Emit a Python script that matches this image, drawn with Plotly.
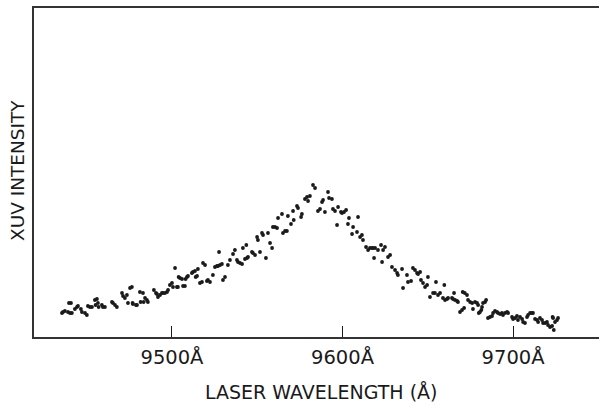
import plotly.graph_objects as go

# Laser wavelength (Angstrom) and XUV intensity (arbitrary units)
wavelength = [
    9435.5, 9436.1, 9437.2, 9439.0, 9439.6, 9440.2, 9440.8, 9441.3, 9443.1, 9444.3,
    9444.9, 9446.6, 9447.2, 9449.0, 9450.1, 9450.7, 9451.9, 9453.1, 9454.8, 9455.2,
    9456.0, 9456.6, 9457.0, 9458.9, 9459.5, 9460.7, 9464.8, 9465.4, 9466.6, 9467.7,
    9470.7, 9471.3, 9472.4, 9473.6, 9474.2, 9475.4, 9476.5, 9476.9, 9477.1, 9478.9,
    9479.5, 9481.2, 9481.6, 9483.0, 9483.4, 9484.2, 9485.3, 9485.9, 9489.4, 9490.6,
    9491.2, 9491.8, 9493.0, 9494.1, 9494.7, 9495.9, 9497.1, 9497.7, 9498.8, 9500.0,
    9500.6, 9501.8, 9502.9, 9503.5, 9503.9, 9504.7, 9505.9, 9506.5, 9507.6, 9508.0,
    9508.8, 9509.4, 9511.7, 9512.3, 9513.5, 9513.9, 9514.7, 9515.2, 9516.4, 9517.6,
    9518.2, 9519.4, 9520.5, 9521.1, 9522.3, 9524.0, 9525.2, 9526.4, 9527.0, 9527.6,
    9528.2, 9529.3, 9529.9, 9531.1, 9532.8, 9534.0, 9535.8, 9536.9, 9538.1, 9538.7,
    9539.9, 9541.1, 9541.6, 9542.8, 9544.0, 9543.6, 9544.6, 9546.9, 9547.5, 9548.7,
    9549.9, 9550.4, 9551.6, 9552.8, 9553.4, 9555.1, 9556.3, 9557.5, 9558.7, 9559.2,
    9560.4, 9561.6, 9562.2, 9564.5, 9565.1, 9566.3, 9567.4, 9568.0, 9569.8, 9571.0,
    9571.4, 9573.3, 9573.9, 9575.7, 9576.2, 9578.0, 9579.2, 9579.8, 9580.9, 9582.7,
    9583.9, 9585.6, 9586.8, 9588.0, 9588.6, 9589.7, 9591.5, 9592.1, 9593.8, 9594.4,
    9595.6, 9596.8, 9597.4, 9599.1, 9599.7, 9600.9, 9602.1, 9603.2, 9603.8, 9605.6,
    9606.2, 9608.5, 9609.1, 9610.3, 9611.4, 9612.0, 9613.8, 9615.0, 9616.1, 9617.3,
    9617.9, 9618.5, 9619.1, 9620.8, 9622.6, 9623.2, 9623.8, 9624.9, 9626.7, 9627.9,
    9629.0, 9630.8, 9632.0, 9632.5, 9634.9, 9635.5, 9637.8, 9638.4, 9640.2, 9641.3,
    9642.5, 9643.7, 9644.3, 9645.5, 9646.0, 9647.2, 9648.4, 9649.6, 9650.1, 9651.3,
    9653.1, 9654.2, 9654.8, 9656.0, 9657.2, 9658.9, 9660.1, 9659.7, 9661.3, 9661.9,
    9664.2, 9664.8, 9665.4, 9666.0, 9667.2, 9667.7, 9668.9, 9670.1, 9670.5, 9671.3,
    9671.7, 9673.0, 9673.6, 9674.8, 9676.0, 9676.5, 9677.7, 9678.9, 9679.5, 9679.9,
    9680.6, 9681.8, 9681.4, 9682.4, 9683.6, 9684.2, 9685.3, 9686.5, 9687.7, 9688.3,
    9689.4, 9690.6, 9691.2, 9692.4, 9693.5, 9694.1, 9695.3, 9696.5, 9697.1, 9699.4,
    9700.0, 9701.2, 9702.3, 9702.9, 9704.1, 9705.3, 9705.9, 9707.0, 9708.2, 9708.8,
    9710.0, 9711.1, 9711.7, 9712.9, 9714.1, 9714.7, 9715.8, 9717.0, 9717.6, 9718.8,
    9719.9, 9720.5, 9721.7, 9722.9, 9723.2, 9723.5, 9723.9, 9724.6, 9725.8, 9726.4,
]

intensity = [
    24, 25, 26, 25, 34, 24, 34, 24, 28, 30,
    31, 28, 25, 24, 22, 31, 30, 30, 37, 32,
    38, 34, 30, 32, 30, 30, 35, 34, 32, 30,
    44, 41, 39, 42, 34, 49, 50, 34, 33, 32,
    32, 45, 35, 44, 35, 39, 37, 35, 47, 44,
    43, 40, 42, 44, 44, 44, 45, 47, 52, 54,
    50, 69, 50, 50, 60, 59, 58, 51, 51, 58,
    60, 61, 64, 65, 66, 60, 61, 68, 54, 55,
    74, 72, 56, 57, 55, 62, 70, 71, 71, 85,
    72, 73, 57, 60, 72, 77, 83, 87, 77, 75,
    74, 73, 89, 78, 79, 92, 80, 85, 84, 82,
    100, 97, 85, 104, 102, 79, 104, 94, 89, 110,
    110, 109, 119, 123, 104, 106, 106, 121, 113, 126,
    117, 131, 129, 120, 123, 138, 140, 136, 141, 152,
    149, 126, 128, 135, 137, 125, 145, 139, 138, 128,
    126, 112, 130, 125, 124, 125, 127, 113, 119, 103,
    110, 105, 120, 100, 102, 97, 90, 87, 89, 89,
    89, 79, 89, 87, 92, 75, 87, 90, 80, 82,
    70, 67, 64, 62, 68, 49, 62, 55, 56, 69,
    67, 64, 63, 65, 57, 54, 50, 52, 60, 40,
    44, 44, 55, 42, 44, 39, 37, 52, 38, 39,
    39, 38, 44, 37, 36, 35, 25, 27, 45, 29,
    44, 42, 37, 35, 34, 28, 35, 34, 32, 24,
    25, 30, 27, 34, 35, 37, 19, 20, 21, 24,
    26, 25, 24, 23, 24, 22, 24, 25, 24, 20,
    18, 19, 21, 17, 20, 18, 15, 14, 20, 22,
    24, 24, 24, 18, 17, 15, 19, 17, 14, 14,
    15, 12, 10, 11, 20, 19, 7, 15, 17, 19,
]

tick_values = [9500, 9600, 9700]
tick_labels = ["9500Å", "9600Å", "9700Å"]

ink = "#1a1a1a"
font_family = "DejaVu Sans"

fig = go.Figure()
fig.add_trace(go.Scatter(
    x=wavelength, y=intensity, mode="markers",
    marker=dict(size=3.8, color=ink),
    showlegend=False, hoverinfo="skip",
))

fig.update_layout(
    width=599, height=404,
    margin=dict(l=34, r=0, t=8, b=67),
    paper_bgcolor="white", plot_bgcolor="white",
    font=dict(family=font_family, color=ink, size=19),
    xaxis=dict(
        range=[9419.1, 9750.4],
        tickmode="array", tickvals=tick_values, ticktext=tick_labels,
        ticks="inside", ticklen=11, tickwidth=1.3, tickcolor=ink,
        ticklabelstandoff=2,
        showline=True, linecolor="#333333", linewidth=1.5, mirror=True,
        showgrid=False, zeroline=False,
        tickfont=dict(family=font_family, size=19.5, color=ink),
        automargin=False,
    ),
    yaxis=dict(
        range=[0, 329],
        showticklabels=False, ticks="",
        showline=True, linecolor="#333333", linewidth=1.5, mirror=False,
        showgrid=False, zeroline=False,
        automargin=False,
    ),
    annotations=[
        dict(text="XUV INTENSITY", xref="paper", yref="paper",
             x=-0.028, y=0.505, xanchor="center", yanchor="middle",
             textangle=-90, showarrow=False,
             font=dict(family=font_family, size=18.5, color=ink)),
        dict(text="LASER WAVELENGTH (Å)", xref="paper", yref="paper",
             x=0.508, y=-0.168, xanchor="center", yanchor="middle",
             showarrow=False,
             font=dict(family=font_family, size=19, color=ink)),
    ],
)

fig.write_html(
    "out.html",
    config={"displayModeBar": False},
    post_script="document.body.style.margin='0';document.body.style.overflow='hidden';",
)
